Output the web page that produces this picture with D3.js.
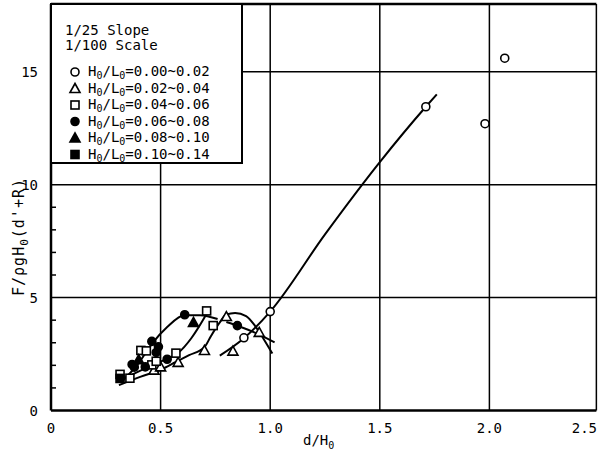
<!DOCTYPE html>
<html>
<head>
<meta charset="utf-8">
<script src="https://cdn.jsdelivr.net/npm/d3@7"></script>
<style>
  body { margin: 0; background: #fff; }
  text { font-family: "DejaVu Sans Mono", "Liberation Mono", monospace; fill: #000; }
</style>
</head>
<body>
<div id="chart"></div>
<script>
// ---- data ----
var xTicks = [0, 0.5, 1.0, 1.5, 2.0, 2.5];
var xTickLabels = ["0", "0.5", "1.0", "1.5", "2.0", "2.5"];
var yTicks = [0, 5, 10, 15];
var yMinor = [1, 2, 3, 4, 6, 7, 8, 9, 11, 12, 13, 14, 16, 17];

var legendTitle = ["1/25 Slope", "1/100 Scale"];
var groups = ["0.00~0.02", "0.02~0.04", "0.04~0.06", "0.06~0.08", "0.08~0.10", "0.10~0.14"];
var symbols = ["circleOpen", "triangleOpen", "squareOpen", "circleFilled", "triangleFilled", "squareFilled"];

// H0/L0 = 0.00~0.02
var s1 = [[0.88, 3.22], [1.00, 4.38], [1.71, 13.45], [1.98, 12.7], [2.07, 15.6]];
// H0/L0 = 0.02~0.04
var s2 = [[0.47, 1.79], [0.50, 1.93], [0.58, 2.13], [0.70, 2.66], [0.80, 4.16], [0.83, 2.63], [0.95, 3.46]];
// H0/L0 = 0.04~0.06
var s3 = [[0.315, 1.60], [0.36, 1.43], [0.41, 2.66], [0.435, 2.64], [0.46, 2.02], [0.48, 2.18],
          [0.57, 2.54], [0.71, 4.41], [0.74, 3.76]];
// H0/L0 = 0.06~0.08
var s4 = [[0.37, 2.04], [0.38, 1.92], [0.43, 1.93], [0.46, 3.06], [0.49, 2.82], [0.48, 2.57],
          [0.53, 2.27], [0.61, 4.24], [0.85, 3.76]];
// H0/L0 = 0.08~0.10
var s5 = [[0.40, 2.25], [0.65, 3.90]];
// H0/L0 = 0.10~0.14
var s6 = [[0.315, 1.42]];

// hand-drawn fitting curves
var curveMain = [[0.77, 2.43], [0.88, 3.2], [1.00, 4.38], [1.25, 7.8], [1.50, 11.0], [1.71, 13.45], [1.76, 14.0]];
var curveA = [[0.32, 1.25], [0.40, 2.1], [0.46, 2.95], [0.53, 3.7], [0.61, 4.22], [0.68, 4.22], [0.76, 4.05]];
var curveB = [[0.33, 1.4], [0.45, 1.95], [0.52, 2.25], [0.58, 2.55], [0.64, 3.2], [0.69, 3.95], [0.725, 4.55]];
var curveC = [[0.31, 1.12], [0.41, 1.5], [0.50, 1.8], [0.57, 2.15], [0.63, 2.45], [0.70, 2.8], [0.73, 3.3],
              [0.77, 3.9], [0.80, 4.25], [0.84, 4.32], [0.89, 4.18], [0.93, 3.76], [0.97, 3.17], [1.01, 2.52]];
var curveD = [[0.80, 3.92], [0.86, 3.72], [0.93, 3.45], [1.02, 3.02]];

var series = [s1, s2, s3, s4, s5, s6];
var curves = [curveMain, curveA, curveB, curveC, curveD];

// ---- layout ----
var W = 598, H = 451;
var svg = d3.select("#chart").append("svg").attr("width", W).attr("height", H);

var x = d3.scaleLinear().domain([0, 2.5]).range([51, 599]);
var y = d3.scaleLinear().domain([0, 18]).range([410.5, 4]);
var xEnd = 2.488;

// grid lines
var grid = svg.append("g").attr("stroke", "#000").attr("stroke-width", 1.5);
grid.selectAll("line.v").data(xTicks.slice(1, 5)).enter().append("line")
    .attr("x1", function(d){ return x(d); }).attr("x2", function(d){ return x(d); })
    .attr("y1", y(0)).attr("y2", y(18));
grid.selectAll("line.h").data(yTicks.slice(1)).enter().append("line")
    .attr("x1", x(0)).attr("x2", x(xEnd))
    .attr("y1", function(d){ return y(d); }).attr("y2", function(d){ return y(d); });

// minor y ticks (inward)
svg.append("g").selectAll("line").data(yMinor).enter().append("line")
    .attr("x1", x(0)).attr("x2", x(0) + 5)
    .attr("y1", function(d){ return y(d); }).attr("y2", function(d){ return y(d); })
    .attr("stroke", "#000").attr("stroke-width", 1.5);

// frame
svg.append("line").attr("x1", x(0)).attr("x2", x(xEnd)).attr("y1", y(0)).attr("y2", y(0))
    .attr("stroke", "#000").attr("stroke-width", 2.5);
svg.append("line").attr("x1", x(0)).attr("x2", x(0)).attr("y1", y(0)).attr("y2", y(18))
    .attr("stroke", "#000").attr("stroke-width", 2.5);
svg.append("line").attr("x1", x(0)).attr("x2", x(xEnd)).attr("y1", y(18)).attr("y2", y(18))
    .attr("stroke", "#000").attr("stroke-width", 2.5);
svg.append("line").attr("x1", x(xEnd)).attr("x2", x(xEnd)).attr("y1", y(0)).attr("y2", y(18))
    .attr("stroke", "#000").attr("stroke-width", 1.5);

// tick labels (last one pulled in so it stays on the page)
svg.append("g").selectAll("text").data(xTicks).enter().append("text")
    .attr("x", function(d, i){ return i === xTicks.length - 1 ? W - 1 : x(d); }).attr("y", 433)
    .attr("text-anchor", function(d, i){ return i === xTicks.length - 1 ? "end" : "middle"; })
    .attr("font-size", 14)
    .text(function(d, i){ return xTickLabels[i]; });
svg.append("g").selectAll("text").data(yTicks).enter().append("text")
    .attr("x", 38).attr("y", function(d){ return y(d) + 5; })
    .attr("text-anchor", "end").attr("font-size", 14)
    .text(function(d){ return d; });

// axis titles
var xl = svg.append("text").attr("x", 303).attr("y", 445).attr("font-size", 14);
xl.append("tspan").text("d/H");
xl.append("tspan").attr("font-size", 10).attr("dy", 4).text("0");

var yl = svg.append("text").attr("transform", "translate(24,237) rotate(-90)")
    .attr("text-anchor", "middle").attr("font-size", 15).attr("letter-spacing", 1);
yl.append("tspan").text("F/\u03c1gH");
yl.append("tspan").attr("font-size", 11).attr("dy", 4).text("0");
yl.append("tspan").attr("dy", -4).text("(d'+R)");

// fitted curves
var line = d3.line().x(function(d){ return x(d[0]); }).y(function(d){ return y(d[1]); })
    .curve(d3.curveMonotoneX);
svg.append("g").selectAll("path").data(curves).enter().append("path")
    .attr("d", line).attr("fill", "none").attr("stroke", "#000").attr("stroke-width", 2);

// markers
function drawSymbol(g, kind, cx, cy) {
  var filled = kind.indexOf("Filled") >= 0;
  var fill = filled ? "#000" : "#fff";
  var el;
  if (kind.indexOf("circle") === 0) {
    el = g.append("circle").attr("cx", cx).attr("cy", cy).attr("r", 4);
  } else if (kind.indexOf("triangle") === 0) {
    el = g.append("path").attr("d", "M" + cx + "," + (cy - 5) + "L" + (cx + 5) + "," + (cy + 4) + "L" + (cx - 5) + "," + (cy + 4) + "Z");
  } else {
    el = g.append("rect").attr("x", cx - 4).attr("y", cy - 4).attr("width", 8).attr("height", 8);
  }
  el.attr("fill", fill).attr("stroke", "#000").attr("stroke-width", 1.6);
}

var marks = svg.append("g");
series.forEach(function(s, i){
  s.forEach(function(p){ drawSymbol(marks, symbols[i], x(p[0]), y(p[1])); });
});

// legend
var lg = svg.append("g");
lg.append("rect").attr("x", x(0)).attr("y", y(18)).attr("width", 191).attr("height", 159)
    .attr("fill", "#fff").attr("stroke", "#000").attr("stroke-width", 2);
legendTitle.forEach(function(t, i){
  lg.append("text").attr("x", 65).attr("y", 35 + i * 15).attr("font-size", 14).text(t);
});
groups.forEach(function(gname, i){
  var yy = 76 + i * 16.5;
  drawSymbol(lg, symbols[i], 75, yy - 4);
  var t = lg.append("text").attr("x", 88).attr("y", yy).attr("font-size", 14);
  t.append("tspan").text("H");
  t.append("tspan").attr("font-size", 10).attr("dy", 3).text("0");
  t.append("tspan").attr("dy", -3).text("/L");
  t.append("tspan").attr("font-size", 10).attr("dy", 3).text("0");
  t.append("tspan").attr("dy", -3).text("=" + gname);
});
</script>
</body>
</html>
